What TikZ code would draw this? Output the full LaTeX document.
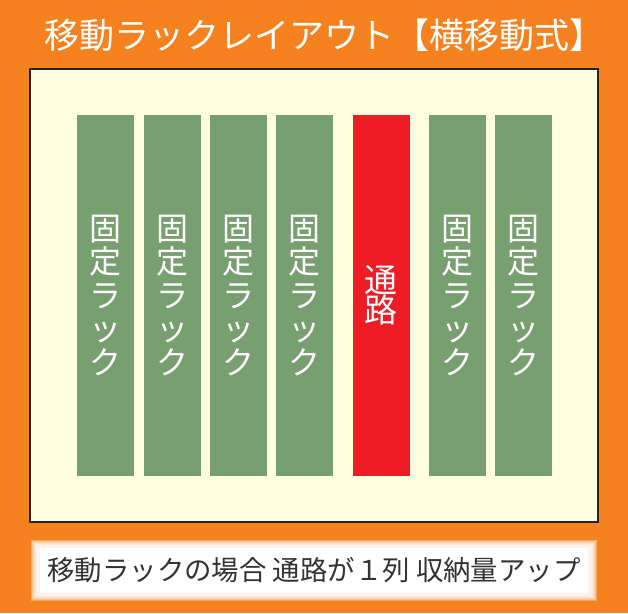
\documentclass[tikz,border=0pt]{standalone}
\usepackage{fontspec}
\setmainfont{Noto Sans CJK JP}
\usepackage{xcolor}
\usepackage{tikz}
\usetikzlibrary{positioning}
\definecolor{bgorange}{HTML}{F5821F}
\definecolor{floorcream}{HTML}{FEFEE0}
\definecolor{rackgreen}{HTML}{789F70}
\definecolor{aislered}{HTML}{EE1C25}
\definecolor{edgedark}{HTML}{222222}
\definecolor{notegray}{HTML}{333333}

\begin{document}
\begin{tikzpicture}[x=1pt, y=-1pt,
  rack/.style={fill=rackgreen, minimum width=57pt, minimum height=361pt, inner sep=0pt,
    text=white, align=center, font=\fontsize{32}{33.5}\selectfont},
  aisle/.style={rack, fill=aislered, font=\fontsize{33}{30.5}\selectfont}]
\fill[bgorange] (0,0) rectangle (628,613);
\useasboundingbox (0,0) rectangle (628,613);
\node (title) at (324,35) [text=white, font=\fontsize{35}{40}\selectfont] {移動ラックレイアウト【横移動式】};
\draw[edgedark, line width=2.5pt, fill=floorcream] (30,69) rectangle (598,522);
\node (rackA) at (105.5,295.5) [rack] {固\\定\\ラ\\ッ\\ク};
\node (rackB) at (172,295.5) [rack] {固\\定\\ラ\\ッ\\ク};
\node (rackC) at (238,295.5) [rack] {固\\定\\ラ\\ッ\\ク};
\node (rackD) at (304.5,295.5) [rack] {固\\定\\ラ\\ッ\\ク};
\node (aisle) at (381,295.5) [aisle] {通\\路};
\node (rackE) at (457,295.5) [rack] {固\\定\\ラ\\ッ\\ク};
\node (rackF) at (523,295.5) [rack] {固\\定\\ラ\\ッ\\ク};
% soft white glow behind the note
\foreach \i in {0,...,6}
  \fill[white, opacity=0.3] (31+\i,540+\i) rectangle (597-\i,601-\i);
\node (note) at (314,570.5) [fill=white, minimum width=548pt, minimum height=45pt, inner sep=0pt,
  text=notegray, font=\fontsize{27.4}{30}\selectfont] {移動ラックの場合 通路が１列 収納量アップ};
\end{tikzpicture}
\end{document}
